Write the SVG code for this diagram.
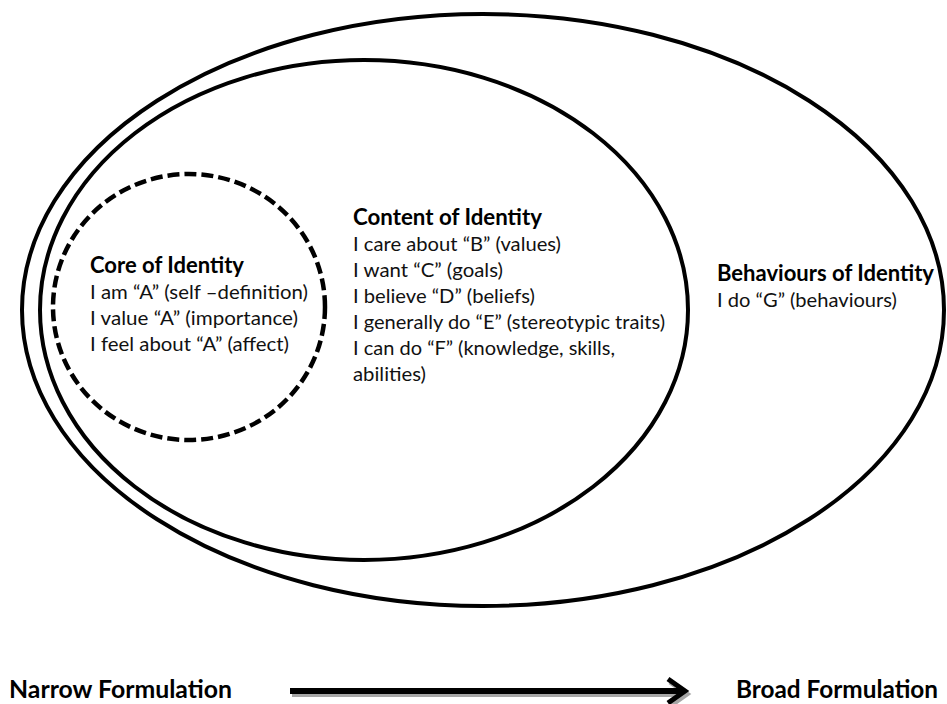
<svg xmlns="http://www.w3.org/2000/svg" width="947" height="704" viewBox="0 0 947 704">
  <style>
    .ring { fill: none; stroke: #000; stroke-width: 4; }
    .dash { fill: none; stroke: #000; stroke-width: 4.5; stroke-dasharray: 12 5; }
    .title { font-family: Lato, "Liberation Sans", sans-serif; font-weight: bold; font-size: 22px; fill: #000; }
    .body { font-family: Lato, "Liberation Sans", sans-serif; font-size: 20px; fill: #111; }
    .axis { font-family: Lato, "Liberation Sans", sans-serif; font-weight: bold; font-size: 24px; fill: #000; }
  </style>
  <rect width="947" height="704" fill="#fff"/>

  <!-- Outer ring: behaviours -->
  <g id="behaviours">
    <ellipse class="ring" cx="483" cy="310" rx="461" ry="296"/>
    <text class="title" x="717" y="281" textLength="217" lengthAdjust="spacingAndGlyphs">Behaviours of Identity</text>
    <text class="body" x="717" y="307" textLength="180" lengthAdjust="spacingAndGlyphs">I do “G” (behaviours)</text>
  </g>

  <!-- Middle ring: content -->
  <g id="content">
    <ellipse class="ring" cx="364" cy="310" rx="324" ry="250"/>
    <text class="title" x="353" y="225" textLength="189" lengthAdjust="spacingAndGlyphs">Content of Identity</text>
    <text class="body" x="353" y="251" textLength="208" lengthAdjust="spacingAndGlyphs">I care about “B” (values)</text>
    <text class="body" x="353" y="277" textLength="150" lengthAdjust="spacingAndGlyphs">I want “C” (goals)</text>
    <text class="body" x="353" y="303" textLength="182" lengthAdjust="spacingAndGlyphs">I believe “D” (beliefs)</text>
    <text class="body" x="353" y="329" textLength="312" lengthAdjust="spacingAndGlyphs">I generally do “E” (stereotypic traits)</text>
    <text class="body" x="353" y="355" textLength="262" lengthAdjust="spacingAndGlyphs">I can do “F” (knowledge, skills,</text>
    <text class="body" x="353" y="381" textLength="73" lengthAdjust="spacingAndGlyphs">abilities)</text>
  </g>

  <!-- Inner dashed ring: core -->
  <g id="core">
    <ellipse class="dash" cx="189" cy="307" rx="136" ry="133"/>
    <text class="title" x="90" y="273" textLength="154" lengthAdjust="spacingAndGlyphs">Core of Identity</text>
    <text class="body" x="90" y="299" textLength="218" lengthAdjust="spacingAndGlyphs">I am “A” (self –definition)</text>
    <text class="body" x="90" y="325" textLength="208" lengthAdjust="spacingAndGlyphs">I value “A” (importance)</text>
    <text class="body" x="90" y="351" textLength="199" lengthAdjust="spacingAndGlyphs">I feel about “A” (affect)</text>
  </g>

  <!-- Axis labels -->
  <g id="narrow">
    <text class="axis" x="9" y="698" textLength="223" lengthAdjust="spacingAndGlyphs">Narrow Formulation</text>
  </g>
  <g id="broad">
    <text class="axis" x="736" y="698" textLength="202" lengthAdjust="spacingAndGlyphs">Broad Formulation</text>
  </g>

  <!-- Connector: narrow to broad arrow, with drop shadow -->
  <g id="connectors">
    <g transform="translate(2,3)" stroke="#a6a6a6" fill="none">
      <line x1="290" y1="691" x2="683" y2="691" stroke-width="6"/>
      <polyline points="668,679 685,691 668,703" stroke-width="5"/>
    </g>
    <g stroke="#000" fill="none">
      <line x1="290" y1="691" x2="683" y2="691" stroke-width="6"/>
      <polyline points="668,679 685,691 668,703" stroke-width="5"/>
    </g>
  </g>
</svg>
